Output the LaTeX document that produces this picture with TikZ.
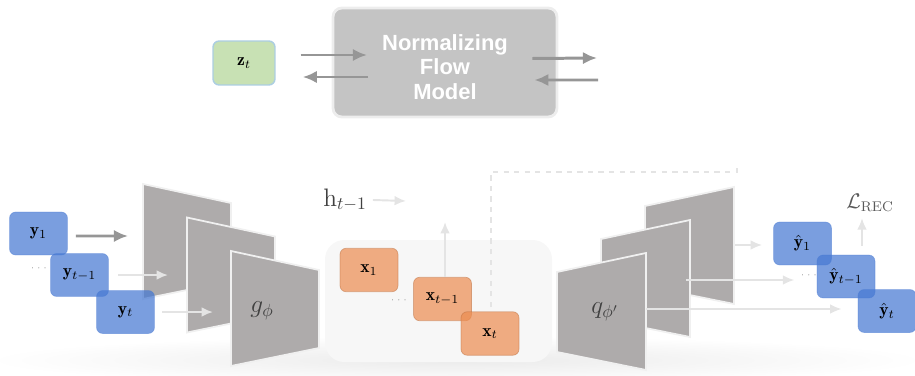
\documentclass[tikz,border=0pt]{standalone}
\usepackage{fontspec}
\usepackage{amsmath}
\newfontfamily\flowfont{Liberation Sans}
\usetikzlibrary{calc,arrows.meta}
\definecolor{boxblue}{RGB}{70,120,210}
\definecolor{boxorange}{RGB}{236,140,80}
\definecolor{boxgreen}{RGB}{200,225,180}
\definecolor{panelgray}{RGB}{174,171,171}
\definecolor{darkarrow}{RGB}{150,150,150}
\definecolor{lightarrow}{RGB}{228,228,228}
\begin{document}
\begin{tikzpicture}[>={Latex[length=8pt,width=7pt]},x=0.02cm,y=-0.02cm,
	ybox/.style={rounded corners=3.5pt,minimum width=1.16cm,minimum height=0.86cm,
		fill=boxblue,fill opacity=0.72,text opacity=1,draw=boxblue,draw opacity=0.4},
	xbox/.style={rounded corners=3.5pt,minimum width=1.16cm,minimum height=0.87cm,
		fill=boxorange,fill opacity=0.7,text opacity=1,draw=boxorange!80!black,draw opacity=0.5},
	panel/.style={fill=panelgray,draw=black!6,line width=1pt,line join=miter},
	darrow/.style={->,color=darkarrow,line width=1.7pt},
	larrow/.style={-{Latex[length=6.5pt,width=5.5pt]},color=lightarrow,line width=1.1pt},
	dotsty/.style={font=\tiny,text=black!45,inner sep=0pt}]
	\useasboundingbox (0,0) rectangle (915,375);
	% floor
	\shade[inner color=black!8,outer color=white] (457,360) ellipse [x radius=470, y radius=24];
	% top part
	\node[rounded corners=3.5pt,minimum width=1.24cm,minimum height=0.88cm,fill=boxgreen,
		draw={rgb,255:red,172;green,206;blue,226},line width=0.8pt] (zt) at (244,63) {$\mathbf{z}_t$};
	\node[rounded corners=5pt,minimum width=4.48cm,minimum height=2.18cm,fill=black!23,
		draw=black!7,line width=1.6pt] (nf) at (445,62.5) {};
	\node[align=center,text=white,font=\flowfont\bfseries\fontsize{12.5}{13.8}\selectfont] (nftext) at (445,67) {Normalizing\\Flow\\Model};
	\coordinate (nfin) at (367,55);
	\coordinate (nfout) at (368,77);
	\coordinate (flowout) at (597,58);
	\coordinate (flowin) at (598,80);
	\draw[darrow] ($(zt.east)+(25,-8)$) -- (nfin);
	\draw[darrow] (nfout) -- ($(zt.east)+(27,14)$);
	\draw[darrow] ($(nf.east)+(-26,-4)$) -- (flowout);
	\draw[darrow] (flowin) -- ($(nf.east)+(-24,17.5)$);
	% latent area
	\fill[black!3,rounded corners=11pt] (325,240) rectangle (552,362);
	\coordinate (skip1) at (491,307);
	\coordinate (skip2) at (737,163);
	\draw[lightarrow,dashed,line width=0.8pt] (skip1) |- ($(skip2)+(0,9)$) -- (skip2);
	% encoder
	\foreach \i in {0,1,2}{
		\pgfmathsetmacro\L{143+44*\i}
		\pgfmathsetmacro\T{184+33.5*\i}
		\filldraw[panel] (\L,\T) -- (\L+88,\T+19) -- (\L+88,\T+97) -- (\L,\T+115) -- cycle;
	}
	\node[text=black!75,font=\Large] (gphi) at (262,311) {$g_{\phi}$};
	\node[ybox] (y1) at (38.5,233.5) {$\mathbf{y}_1$};
	\node[ybox] (ym) at (79.5,275) {$\mathbf{y}_{t-1}$};
	\node[ybox] (yt) at (125.5,312) {$\mathbf{y}_t$};
	\node[dotsty] (ydots) at (40,268) {$\cdots$};
	\coordinate (enc1) at (128,236);
	\coordinate (enc2) at (168,275);
	\coordinate (enc3) at (213,312);
	\draw[darrow] ($(y1.east)+(8,2.5)$) -- (enc1);
	\draw[larrow] ($(ym.east)+(9,0)$) -- (enc2);
	\draw[larrow] ($(yt.east)+(7,0)$) -- (enc3);
	% latent states
	\node[xbox] (x1) at (369,270) {$\mathbf{x}_1$};
	\node[xbox] (xm) at (442.5,299) {$\mathbf{x}_{t-1}$};
	\node[xbox] (xt) at (490,333.5) {$\mathbf{x}_t$};
	\node[dotsty] (xdots) at (400,300) {$\cdots$};
	\node[text=black!75,font=\Large] (h) at (345,200) {$\mathrm{h}_{t-1}$};
	\coordinate (hnext) at (406,201);
	\coordinate (xup) at (445,222);
	\draw[larrow] (h.east) -- (hnext);
	\draw[larrow] (xm.north -| xup) -- (xup);
	% decoder
	\foreach \j in {2,1,0}{
		\pgfmathsetmacro\L{557+44*\j}
		\pgfmathsetmacro\T{272-33*\j}
		\filldraw[panel] (\L,\T) -- (\L+89,\T-19) -- (\L+89,\T+98) -- (\L,\T+80) -- cycle;
	}
	\node[text=black!75,font=\Large] (qphi) at (605,312) {$q_{\phi'}$};
	\node[ybox] (yh1) at (802.5,243.5) {$\hat{\mathbf{y}}_1$};
	\node[ybox] (yhm) at (846,276.5) {$\hat{\mathbf{y}}_{t-1}$};
	\node[ybox] (yht) at (887,311) {$\hat{\mathbf{y}}_t$};
	\node[dotsty] (yhdots) at (810,275) {$\cdots$};
	\coordinate (dec1) at (735,245);
	\coordinate (dec2) at (686,280);
	\coordinate (dec3) at (646,309);
	\draw[larrow] (dec1) -- ($(yh1.west)+(-11,1.5)$);
	\draw[larrow] (dec2) -- ($(yhdots.west)+(-6,5)$);
	\draw[larrow] (dec3) -- ($(yht.west)+(-16,-2)$);
	\node[text=black!65,font=\large] (rec) at (870,203) {$\mathcal{L}_{\mathrm{REC}}$};
	\coordinate (recin) at (862,246);
	\draw[larrow] (recin) -- (recin |- rec.south);
\end{tikzpicture}
\end{document}
